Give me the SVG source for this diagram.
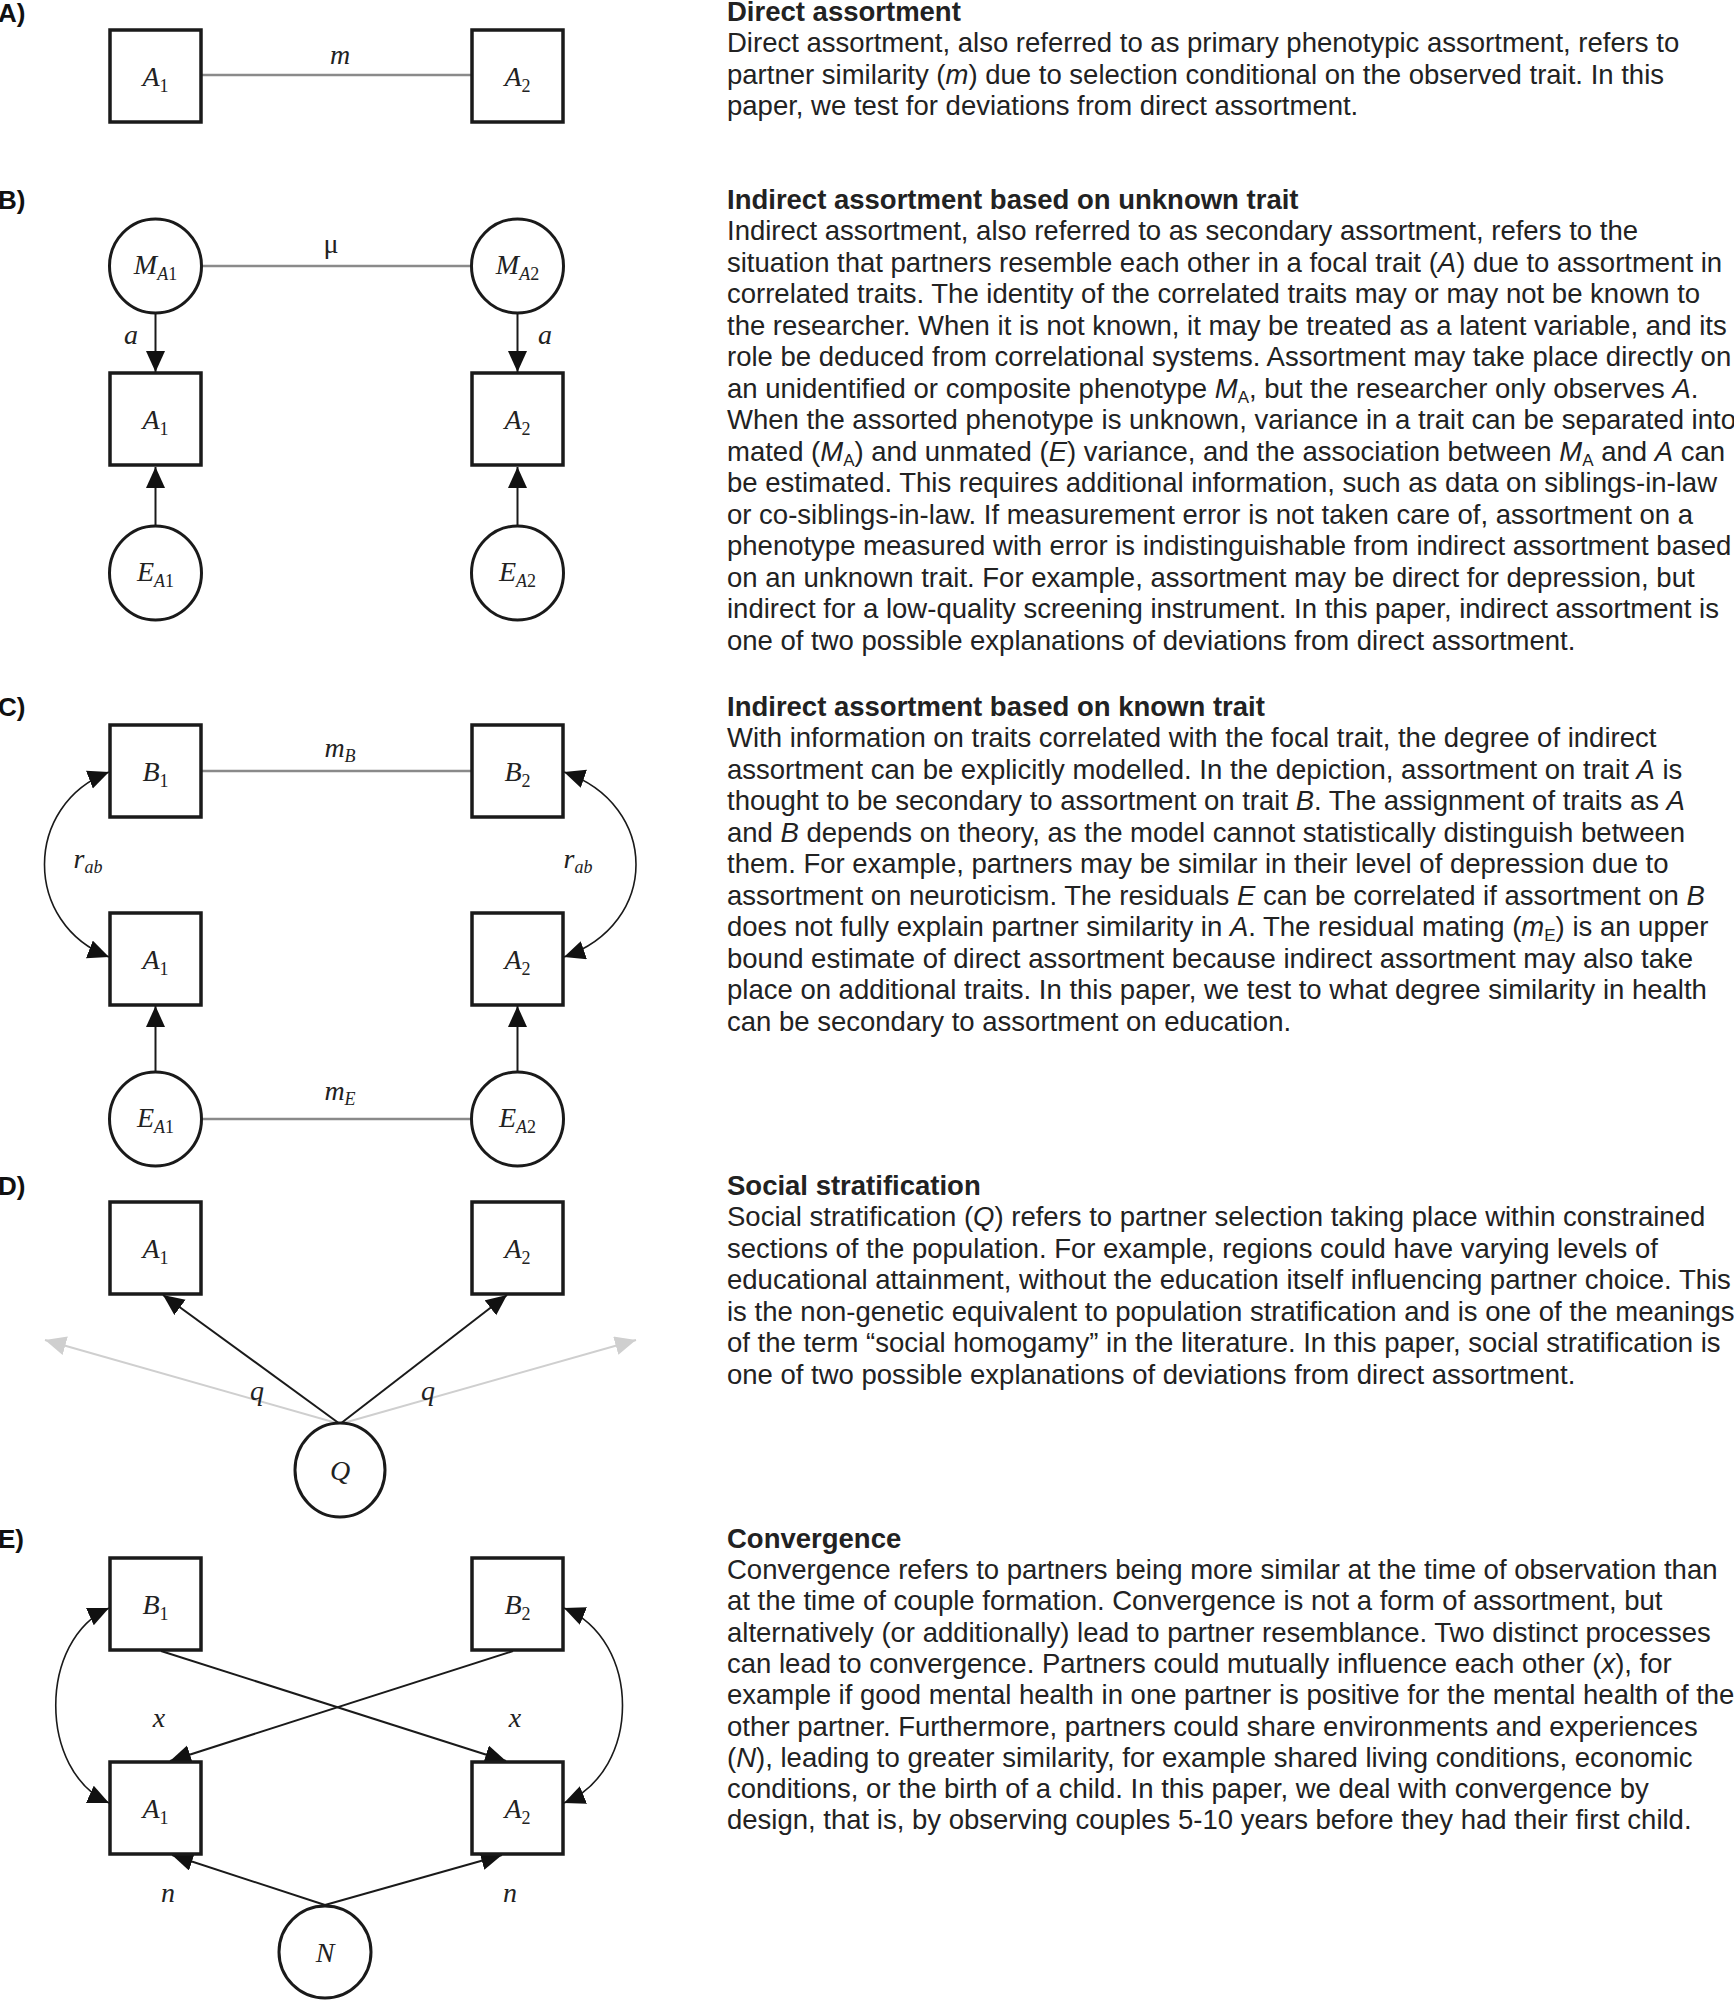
<svg xmlns="http://www.w3.org/2000/svg" width="1734" height="2000" viewBox="0 0 1734 2000">
<defs>
<style>
.box{fill:#fff;stroke:#1a1a1a;stroke-width:3.5}
.circ{fill:#fff;stroke:#1a1a1a;stroke-width:3}
.corr{stroke:#8a8a8a;stroke-width:2.5;fill:none}
.arr{stroke:#1a1a1a;stroke-width:2;fill:none;marker-end:url(#ah)}
.grey{stroke:#cfcfcf;stroke-width:2;fill:none;marker-end:url(#ahg)}
.dbl{stroke:#1a1a1a;stroke-width:1.6;fill:none;marker-start:url(#ahs);marker-end:url(#ah)}
.nl{font-family:"Liberation Serif","Times New Roman",serif;font-style:italic;font-size:28px;fill:#222;text-anchor:middle}
.up{font-style:normal}
.sub{font-size:18px}
.lab{font-family:"Liberation Sans",Arial,sans-serif;font-weight:bold;font-size:26px;fill:#111}
.tt{font-family:"Liberation Sans",Arial,sans-serif;font-weight:bold;font-size:27.5px;fill:#222}
.bt{font-family:"Liberation Sans",Arial,sans-serif;font-size:27.5px;fill:#222}
.i{font-style:italic}
</style>
<marker id="ah" markerUnits="userSpaceOnUse" markerWidth="24" markerHeight="22" refX="21" refY="9.5" orient="auto"><path d="M0,0 L21,9.5 L0,19 z" fill="#111"/></marker>
<marker id="ahs" markerUnits="userSpaceOnUse" markerWidth="24" markerHeight="22" refX="21" refY="9.5" orient="auto-start-reverse"><path d="M0,0 L21,9.5 L0,19 z" fill="#111"/></marker>
<marker id="ahg" markerUnits="userSpaceOnUse" markerWidth="24" markerHeight="22" refX="21" refY="9.5" orient="auto"><path d="M0,0 L21,9.5 L0,19 z" fill="#cfcfcf"/></marker>
</defs>
<rect width="1734" height="2000" fill="#fff"/>

<!-- connectors -->
<g id="connectors">
  <!-- A -->
  <line class="corr" x1="201" y1="75" x2="472" y2="75"/>
  <!-- B -->
  <line class="corr" x1="202" y1="266" x2="471" y2="266"/>
  <line class="arr" x1="155.5" y1="312" x2="155.5" y2="372"/>
  <line class="arr" x1="517.5" y1="312" x2="517.5" y2="372"/>
  <line class="arr" x1="155.5" y1="526" x2="155.5" y2="467"/>
  <line class="arr" x1="517.5" y1="526" x2="517.5" y2="467"/>
  <!-- C -->
  <line class="corr" x1="201" y1="771" x2="472" y2="771"/>
  <path class="dbl" d="M109,772 C23,805 23,924 109,957"/>
  <path class="dbl" d="M564,772 C660,805 660,924 564,957"/>
  <line class="arr" x1="155.5" y1="1073" x2="155.5" y2="1006"/>
  <line class="arr" x1="517.5" y1="1073" x2="517.5" y2="1006"/>
  <line class="corr" x1="202" y1="1119" x2="471" y2="1119"/>
  <!-- D -->
  <line class="grey" x1="340" y1="1424" x2="45" y2="1340"/>
  <line class="grey" x1="340" y1="1424" x2="636" y2="1340"/>
  <line class="arr" x1="340" y1="1424" x2="163" y2="1295"/>
  <line class="arr" x1="340" y1="1424" x2="507" y2="1295"/>
  <!-- E -->
  <path class="dbl" d="M109,1608 C38,1640 38,1771 109,1803"/>
  <path class="dbl" d="M564,1608 C642,1640 642,1771 564,1803"/>
  <line class="arr" x1="161" y1="1651" x2="506" y2="1761"/>
  <line class="arr" x1="513" y1="1651" x2="170" y2="1761"/>
  <line class="arr" x1="325" y1="1905" x2="172" y2="1855"/>
  <line class="arr" x1="325" y1="1905" x2="502" y2="1855"/>
</g>

<!-- edge labels -->
<g id="edge-labels">
  <text class="nl" x="340" y="64">m</text>
  <text class="nl up" x="331" y="253">μ</text>
  <text class="nl" x="131" y="344">a</text>
  <text class="nl" x="545" y="344">a</text>
  <text class="nl" x="340" y="757">m<tspan class="sub" dy="5">B</tspan></text>
  <text class="nl" x="88" y="868">r<tspan class="sub" dy="5">ab</tspan></text>
  <text class="nl" x="578" y="868">r<tspan class="sub" dy="5">ab</tspan></text>
  <text class="nl" x="340" y="1100">m<tspan class="sub" dy="5">E</tspan></text>
  <text class="nl" x="257" y="1400">q</text>
  <text class="nl" x="428" y="1400">q</text>
  <text class="nl" x="159" y="1727">x</text>
  <text class="nl" x="515" y="1727">x</text>
  <text class="nl" x="168" y="1902">n</text>
  <text class="nl" x="510" y="1902">n</text>
</g>

<!-- panel A -->
<g id="A-A1"><rect class="box" x="110" y="30" width="91" height="92"/><text class="nl" x="155.5" y="86">A<tspan class="sub up" dy="6">1</tspan></text></g>
<g id="A-A2"><rect class="box" x="472" y="30" width="91" height="92"/><text class="nl" x="517.5" y="86">A<tspan class="sub up" dy="6">2</tspan></text></g>

<!-- panel B -->
<g id="B-MA1"><ellipse class="circ" cx="155.5" cy="266" rx="46" ry="47"/><text class="nl" x="155.5" y="274">M<tspan class="sub" dy="6">A</tspan><tspan class="sub up">1</tspan></text></g>
<g id="B-MA2"><ellipse class="circ" cx="517.5" cy="266" rx="46" ry="47"/><text class="nl" x="517.5" y="274">M<tspan class="sub" dy="6">A</tspan><tspan class="sub up">2</tspan></text></g>
<g id="B-A1"><rect class="box" x="110" y="373" width="91" height="92"/><text class="nl" x="155.5" y="429">A<tspan class="sub up" dy="6">1</tspan></text></g>
<g id="B-A2"><rect class="box" x="472" y="373" width="91" height="92"/><text class="nl" x="517.5" y="429">A<tspan class="sub up" dy="6">2</tspan></text></g>
<g id="B-EA1"><ellipse class="circ" cx="155.5" cy="573" rx="46" ry="47"/><text class="nl" x="155.5" y="581">E<tspan class="sub" dy="6">A</tspan><tspan class="sub up">1</tspan></text></g>
<g id="B-EA2"><ellipse class="circ" cx="517.5" cy="573" rx="46" ry="47"/><text class="nl" x="517.5" y="581">E<tspan class="sub" dy="6">A</tspan><tspan class="sub up">2</tspan></text></g>

<!-- panel C -->
<g id="C-B1"><rect class="box" x="110" y="725" width="91" height="92"/><text class="nl" x="155.5" y="781">B<tspan class="sub up" dy="6">1</tspan></text></g>
<g id="C-B2"><rect class="box" x="472" y="725" width="91" height="92"/><text class="nl" x="517.5" y="781">B<tspan class="sub up" dy="6">2</tspan></text></g>
<g id="C-A1"><rect class="box" x="110" y="913" width="91" height="92"/><text class="nl" x="155.5" y="969">A<tspan class="sub up" dy="6">1</tspan></text></g>
<g id="C-A2"><rect class="box" x="472" y="913" width="91" height="92"/><text class="nl" x="517.5" y="969">A<tspan class="sub up" dy="6">2</tspan></text></g>
<g id="C-EA1"><ellipse class="circ" cx="155.5" cy="1119" rx="46" ry="47"/><text class="nl" x="155.5" y="1127">E<tspan class="sub" dy="6">A</tspan><tspan class="sub up">1</tspan></text></g>
<g id="C-EA2"><ellipse class="circ" cx="517.5" cy="1119" rx="46" ry="47"/><text class="nl" x="517.5" y="1127">E<tspan class="sub" dy="6">A</tspan><tspan class="sub up">2</tspan></text></g>

<!-- panel D -->
<g id="D-A1"><rect class="box" x="110" y="1202" width="91" height="92"/><text class="nl" x="155.5" y="1258">A<tspan class="sub up" dy="6">1</tspan></text></g>
<g id="D-A2"><rect class="box" x="472" y="1202" width="91" height="92"/><text class="nl" x="517.5" y="1258">A<tspan class="sub up" dy="6">2</tspan></text></g>
<g id="D-Q"><ellipse class="circ" cx="340" cy="1470" rx="45" ry="47"/><text class="nl" x="340" y="1480">Q</text></g>

<!-- panel E -->
<g id="E-B1"><rect class="box" x="110" y="1558" width="91" height="92"/><text class="nl" x="155.5" y="1614">B<tspan class="sub up" dy="6">1</tspan></text></g>
<g id="E-B2"><rect class="box" x="472" y="1558" width="91" height="92"/><text class="nl" x="517.5" y="1614">B<tspan class="sub up" dy="6">2</tspan></text></g>
<g id="E-A1"><rect class="box" x="110" y="1762" width="91" height="92"/><text class="nl" x="155.5" y="1818">A<tspan class="sub up" dy="6">1</tspan></text></g>
<g id="E-A2"><rect class="box" x="472" y="1762" width="91" height="92"/><text class="nl" x="517.5" y="1818">A<tspan class="sub up" dy="6">2</tspan></text></g>
<g id="E-N"><ellipse class="circ" cx="325" cy="1952" rx="46" ry="46"/><text class="nl" x="325" y="1962">N</text></g>

<!-- panel labels -->
<g id="panel-labels">
  <text class="lab" x="-2" y="22">A)</text>
  <text class="lab" x="-2" y="209">B)</text>
  <text class="lab" x="-2" y="716">C)</text>
  <text class="lab" x="-2" y="1195">D)</text>
  <text class="lab" x="-2" y="1548" font-weight="normal" fill="#444">E)</text>
</g>

<!-- descriptions -->
<g id="text-A">
  <text class="tt" x="727" y="21">Direct assortment</text>
  <text class="bt" x="727" y="52">Direct assortment, also referred to as primary phenotypic assortment, refers to</text>
  <text class="bt" x="727" y="83.5">partner similarity (<tspan class="i">m</tspan>) due to selection conditional on the observed trait. In this</text>
  <text class="bt" x="727" y="115">paper, we test for deviations from direct assortment.</text>
</g>
<g id="text-B">
  <text class="tt" x="727" y="209">Indirect assortment based on unknown trait</text>
  <text class="bt" x="727" y="240">Indirect assortment, also referred to as secondary assortment, refers to the</text>
  <text class="bt" x="727" y="271.5">situation that partners resemble each other in a focal trait (<tspan class="i">A</tspan>) due to assortment in</text>
  <text class="bt" x="727" y="303">correlated traits. The identity of the correlated traits may or may not be known to</text>
  <text class="bt" x="727" y="334.5">the researcher. When it is not known, it may be treated as a latent variable, and its</text>
  <text class="bt" x="727" y="366">role be deduced from correlational systems. Assortment may take place directly on</text>
  <text class="bt" x="727" y="397.5">an unidentified or composite phenotype <tspan class="i">M</tspan><tspan font-size="17" dy="5">A</tspan><tspan dy="-5">, but the researcher only observes </tspan><tspan class="i">A</tspan>.</text>
  <text class="bt" x="727" y="429">When the assorted phenotype is unknown, variance in a trait can be separated into</text>
  <text class="bt" x="727" y="460.5">mated (<tspan class="i">M</tspan><tspan font-size="17" dy="5">A</tspan><tspan dy="-5">) and unmated (</tspan><tspan class="i">E</tspan>) variance, and the association between <tspan class="i">M</tspan><tspan font-size="17" dy="5">A</tspan><tspan dy="-5"> and </tspan><tspan class="i">A</tspan> can</text>
  <text class="bt" x="727" y="492">be estimated. This requires additional information, such as data on siblings-in-law</text>
  <text class="bt" x="727" y="523.5">or co-siblings-in-law. If measurement error is not taken care of, assortment on a</text>
  <text class="bt" x="727" y="555">phenotype measured with error is indistinguishable from indirect assortment based</text>
  <text class="bt" x="727" y="586.5">on an unknown trait. For example, assortment may be direct for depression, but</text>
  <text class="bt" x="727" y="618">indirect for a low-quality screening instrument. In this paper, indirect assortment is</text>
  <text class="bt" x="727" y="649.5">one of two possible explanations of deviations from direct assortment.</text>
</g>
<g id="text-C">
  <text class="tt" x="727" y="716">Indirect assortment based on known trait</text>
  <text class="bt" x="727" y="747">With information on traits correlated with the focal trait, the degree of indirect</text>
  <text class="bt" x="727" y="778.5">assortment can be explicitly modelled. In the depiction, assortment on trait <tspan class="i">A</tspan> is</text>
  <text class="bt" x="727" y="810">thought to be secondary to assortment on trait <tspan class="i">B</tspan>. The assignment of traits as <tspan class="i">A</tspan></text>
  <text class="bt" x="727" y="841.5">and <tspan class="i">B</tspan> depends on theory, as the model cannot statistically distinguish between</text>
  <text class="bt" x="727" y="873">them. For example, partners may be similar in their level of depression due to</text>
  <text class="bt" x="727" y="904.5">assortment on neuroticism. The residuals <tspan class="i">E</tspan> can be correlated if assortment on <tspan class="i">B</tspan></text>
  <text class="bt" x="727" y="936">does not fully explain partner similarity in <tspan class="i">A</tspan>. The residual mating (<tspan class="i">m</tspan><tspan font-size="17" dy="5">E</tspan><tspan dy="-5">) is an upper</tspan></text>
  <text class="bt" x="727" y="967.5">bound estimate of direct assortment because indirect assortment may also take</text>
  <text class="bt" x="727" y="999">place on additional traits. In this paper, we test to what degree similarity in health</text>
  <text class="bt" x="727" y="1030.5">can be secondary to assortment on education.</text>
</g>
<g id="text-D">
  <text class="tt" x="727" y="1195">Social stratification</text>
  <text class="bt" x="727" y="1226">Social stratification (<tspan class="i">Q</tspan>) refers to partner selection taking place within constrained</text>
  <text class="bt" x="727" y="1257.5">sections of the population. For example, regions could have varying levels of</text>
  <text class="bt" x="727" y="1289">educational attainment, without the education itself influencing partner choice. This</text>
  <text class="bt" x="727" y="1320.5">is the non-genetic equivalent to population stratification and is one of the meanings</text>
  <text class="bt" x="727" y="1352">of the term “social homogamy” in the literature. In this paper, social stratification is</text>
  <text class="bt" x="727" y="1383.5">one of two possible explanations of deviations from direct assortment.</text>
</g>
<g id="text-E">
  <text class="tt" x="727" y="1548">Convergence</text>
  <text class="bt" x="727" y="1579">Convergence refers to partners being more similar at the time of observation than</text>
  <text class="bt" x="727" y="1610.3">at the time of couple formation. Convergence is not a form of assortment, but</text>
  <text class="bt" x="727" y="1641.6">alternatively (or additionally) lead to partner resemblance. Two distinct processes</text>
  <text class="bt" x="727" y="1672.9">can lead to convergence. Partners could mutually influence each other (<tspan class="i">x</tspan>), for</text>
  <text class="bt" x="727" y="1704.2">example if good mental health in one partner is positive for the mental health of the</text>
  <text class="bt" x="727" y="1735.5">other partner. Furthermore, partners could share environments and experiences</text>
  <text class="bt" x="727" y="1766.8">(<tspan class="i">N</tspan>), leading to greater similarity, for example shared living conditions, economic</text>
  <text class="bt" x="727" y="1798.1">conditions, or the birth of a child. In this paper, we deal with convergence by</text>
  <text class="bt" x="727" y="1829.4">design, that is, by observing couples 5-10 years before they had their first child.</text>
</g>
</svg>
